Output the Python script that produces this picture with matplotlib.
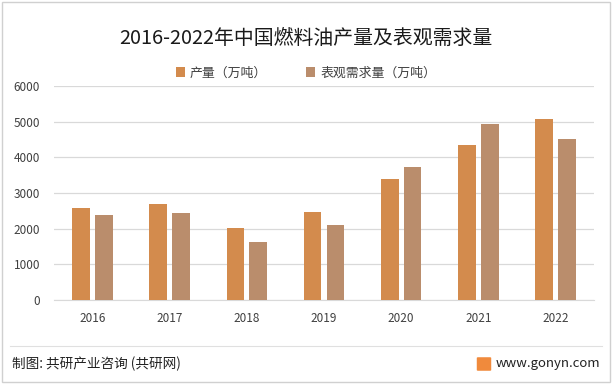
import numpy as np
import matplotlib
import matplotlib.pyplot as plt
from matplotlib.patches import Rectangle, FancyBboxPatch

matplotlib.use("Agg")
plt.rcParams['font.family'] = ['Noto Sans CJK SC', 'DejaVu Sans']

years = ["2016", "2017", "2018", "2019", "2020", "2021", "2022"]
production = [2579, 2691, 2018, 2467, 3392, 4346, 5074]
demand = [2383, 2439, 1626, 2103, 3729, 4934, 4514]

title = "2016-2022年中国燃料油产量及表观需求量"
labels = ["产量（万吨）", "表观需求量（万吨）"]
colors = ["#D38B4D", "#BA8D6C"]

fig = plt.figure(figsize=(6.12, 3.84), dpi=100)
ax = fig.add_axes([54 / 612, 1 - 300 / 384, 540 / 612, 214 / 384])

x = np.arange(len(years))
w = 0.23
gap = 0.065
ax.bar(x - (w + gap) / 2, production, width=w, color=colors[0], label=labels[0], zorder=3)
ax.bar(x + (w + gap) / 2, demand, width=w, color=colors[1], label=labels[1], zorder=3)

ax.set_xlim(-0.5, len(years) - 0.5)
ax.set_ylim(0, 6000)
ax.set_yticks(range(0, 6001, 1000))
ax.set_xticks(x)
ax.set_xticklabels(years)
ax.grid(axis='y', color='#D9D9D9', linewidth=0.9, zorder=0)
for s in ['top', 'right', 'left']:
    ax.spines[s].set_visible(False)
ax.spines['bottom'].set_color('#D9D9D9')
ax.tick_params(axis='both', length=0, labelsize=8.5, colors='#404040')
ax.tick_params(axis='x', pad=9)
ax.tick_params(axis='y', pad=10)

fig.text(0.5, 1 - 38 / 384, title, ha='center', va='center', fontsize=14.3, color='#1a1a1a')
fig.legend(loc='center', bbox_to_anchor=(0.5, 1 - 73 / 384), ncol=2, frameon=False,
           fontsize=9.3, handlelength=0.7, handleheight=0.7, columnspacing=3.0,
           handletextpad=0.4, labelcolor='#404040')

# frame and footer
fig.add_artist(Rectangle((2 / 612, 2 / 384), 608 / 612, 380 / 384, transform=fig.transFigure,
                         fill=False, edgecolor='#D0D0D0', linewidth=1))
fig.add_artist(plt.Line2D([10 / 612, 602 / 612], [1 - 346 / 384] * 2, transform=fig.transFigure,
                          color='#E0E0E0', linewidth=0.8))
fig.text(12 / 612, 1 - 364 / 384, "制图: 共研产业咨询 (共研网)", ha='left', va='center',
         fontsize=9.8, color='#222222')
fig.add_artist(FancyBboxPatch((478 / 612, 1 - 370 / 384), 12 / 612, 12 / 384,
                              boxstyle='round,pad=0.002', transform=fig.transFigure,
                              facecolor='#F08A3C', edgecolor='none'))
fig.text(600 / 612, 1 - 364 / 384, "www.gonyn.com", ha='right', va='center',
         fontsize=9.5, color='#222222')

fig.savefig("out.png", dpi=100)
